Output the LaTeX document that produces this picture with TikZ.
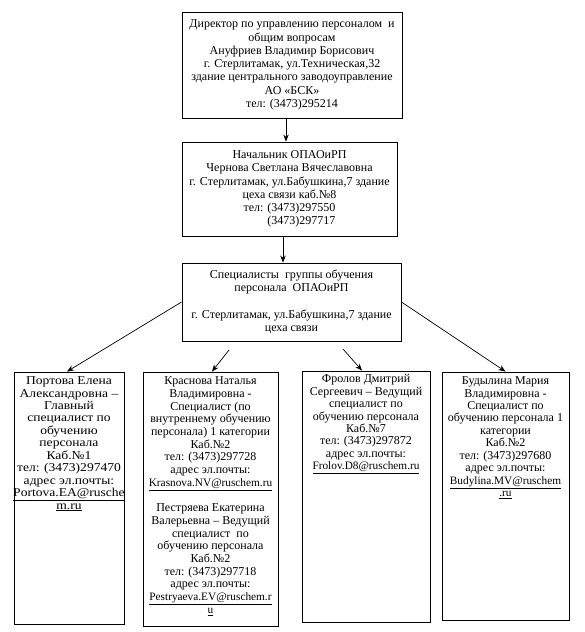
\documentclass[tikz,border=0pt]{standalone}
\usepackage{fontspec}
\setmainfont{Liberation Serif}
\newfontfamily\widefont[FakeStretch=1.13]{Liberation Serif}
\newcommand{\eml}[1]{{\fontsize{11.3}{12.5}\selectfont\underline{#1}}}
\usetikzlibrary{arrows.meta}
\tikzset{
  box/.style={draw, line width=0.9pt, inner sep=0pt, align=center,
    font=\fontsize{12}{13.3}\selectfont},
  lowbox/.style={draw, line width=0.9pt, inner sep=0pt},
  lowtext/.style={anchor=north, inner sep=0pt, align=center,
    font=\fontsize{12}{12.5}\selectfont},
  arr/.style={line width=0.7pt, -{Stealth[length=7pt,width=5.5pt]}}
}
\begin{document}
\begin{tikzpicture}[x=1pt,y=-1pt]
\useasboundingbox (0,0) rectangle (584,632);
% top box
\node[box, minimum width=220pt, minimum height=106pt] (T) at (292,65)
{Директор по управлению персоналом\ \ и\\
общим вопросам\\
Ануфриев Владимир Борисович\\
г. Стерлитамак, ул.Техническая,32\\
здание центрального заводоуправление\\
АО «БСК»\\
тел: (3473)295214};
% second box
\node[box, minimum width=215pt, minimum height=94pt] (N) at (289.5,189)
{Начальник ОПАОиРП\\
Чернова Светлана Вячеславовна\\
г. Стерлитамак, ул.Бабушкина,7 здание\\
цеха связи каб.№8\\
тел: (3473)297550\\
\phantom{тел: }(3473)297717};
% third box
\node[box, minimum width=219pt, minimum height=78pt] (S) at (291.5,302)
{Специалисты\ \ группы обучения\\
персонала\ \ ОПАОиРП\\[13.3pt]
г. Стерлитамак, ул.Бабушкина,7 здание\\
цеха связи};
% bottom boxes
\node[lowbox, minimum width=110pt, minimum height=252pt] (A) at (69,498) {};
\node[lowbox, minimum width=135pt, minimum height=254pt] (B) at (210.5,499) {};
\node[lowbox, minimum width=128pt, minimum height=251pt] (C) at (366,496.5) {};
\node[lowbox, minimum width=127pt, minimum height=248pt] (D) at (505.5,496) {};
\node[lowtext, font=\widefont\fontsize{12}{12.45}\selectfont] (At) at ([yshift=-5pt]A.north)
{Портова Елена\\
Александровна –\\
Главный\\
специалист по\\
обучению\\
персонала\\
Каб.№1\\
тел: (3473)297470\\
адрес эл.почты:\\
\underline{Portova.EA@rusche}\\
\underline{m.ru}};
\node[lowtext, font=\fontsize{12}{12.7}\selectfont] (Bt) at ([yshift=-5pt]B.north)
{Краснова Наталья\\
Владимировна -\\
Специалист (по\\
внутреннему обучению\\
персонала) 1 категории\\
Каб.№2\\
тел: (3473)297728\\
адрес эл.почты:\\
\eml{Krasnova.NV@ruschem.ru}\\[12.7pt]
Пестряева Екатерина\\
Валерьевна – Ведущий\\
специалист\ \ по\\
обучению персонала\\
Каб.№2\\
тел: (3473)297718\\
адрес эл.почты:\\
\eml{Pestryaeva.EV@ruschem.r}\\
\eml{u}};
\node[lowtext, font=\fontsize{12}{12.4}\selectfont] (Ct) at ([yshift=-4pt]C.north)
{Фролов Дмитрий\\
Сергеевич – Ведущий\\
специалист по\\
обучению персонала\\
Каб.№7\\
тел: (3473)297872\\
адрес эл.почты:\\
\eml{Frolov.D8@ruschem.ru}};
\node[lowtext, font=\fontsize{12}{12.45}\selectfont] (Dt) at ([yshift=-5pt]D.north)
{Будылина Мария\\
Владимировна -\\
Специалист по\\
обучению персонала 1\\
категории\\
Каб.№2\\
тел: (3473)297680\\
адрес эл.почты:\\
\eml{Budylina.MV@ruschem}\\
\eml{.ru}};
% connectors
\coordinate (x1) at (286,0);
\coordinate (x2) at (283,0);
\coordinate (bs) at (229,350);
\coordinate (cs) at (343,349);
\draw[arr] (T.south -| x1) -- (N.north -| x1);
\draw[arr] (N.south -| x2) -- (S.north -| x2);
\draw[arr] (S.west) -- ([xshift=-2pt]A.north);
\draw[arr] (bs) -- ([xshift=1.5pt]B.north);
\draw[arr] (cs) -- ([xshift=-4pt]C.north);
\draw[arr] (S.east) -- (D.north);
\end{tikzpicture}
\end{document}
